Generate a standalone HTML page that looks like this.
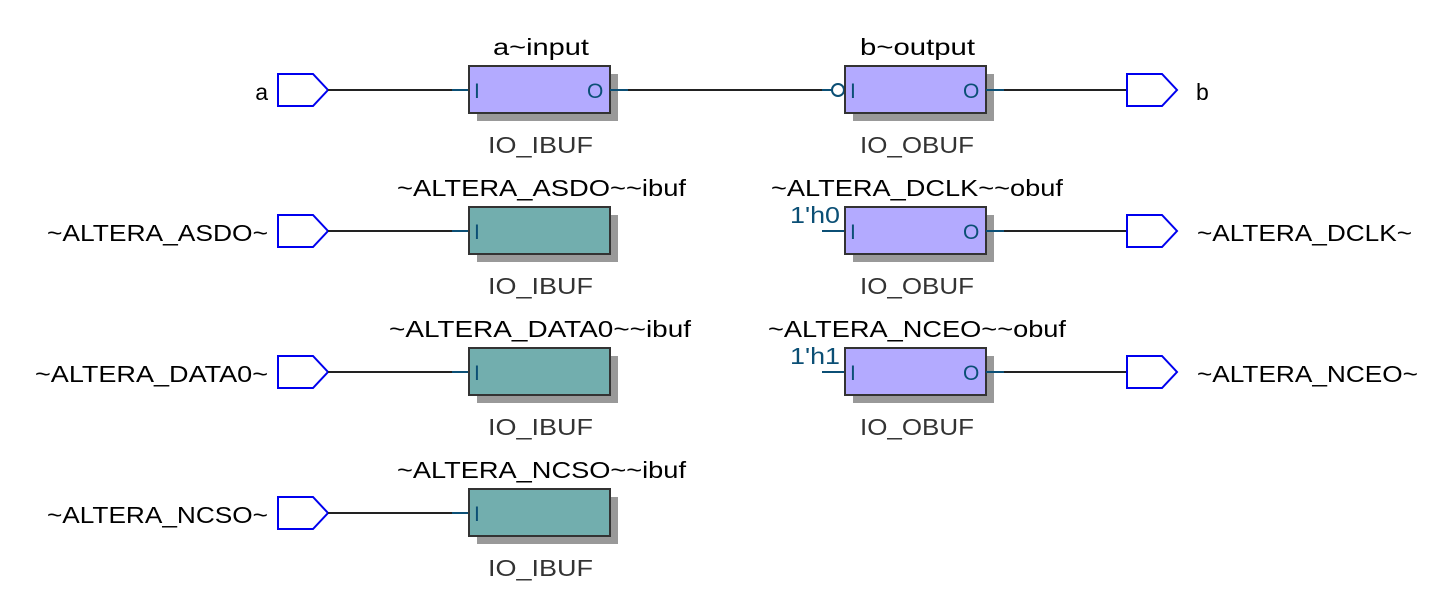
<!DOCTYPE html>
<html><head><style>body{margin:0;background:#fff}svg{display:block}</style></head><body>
<svg width="1449" height="600" viewBox="0 0 1449 600" xmlns="http://www.w3.org/2000/svg" font-family="Liberation Sans, DejaVu Sans, sans-serif">
<defs>
<g id="port"><path d="M278,-16 H313 L328,0 L313,16 H278 Z" fill="#fff" stroke="#0000ee" stroke-width="2"/></g>
</defs>
<g font-size="23" lengthAdjust="spacingAndGlyphs">
<!-- row 0 -->
<g transform="translate(0,90)">
<use href="#port"/>
<line x1="328" y1="0" x2="452" y2="0" stroke="#222" stroke-width="2"/>
<line x1="452" y1="0" x2="469" y2="0" stroke="#0b4f75" stroke-width="2"/>
<rect x="477" y="-16" width="141" height="47" fill="#999"/>
<rect x="469" y="-24" width="141" height="47" fill="#b3aaff" stroke="#333" stroke-width="2"/>
<text x="474" y="8" fill="#0b4f75" font-size="21">I</text>
<text x="587" y="8" fill="#0b4f75" font-size="21">O</text>
<line x1="610" y1="0" x2="628" y2="0" stroke="#0b4f75" stroke-width="2"/>
<line x1="628" y1="0" x2="822" y2="0" stroke="#222" stroke-width="2"/>
<line x1="822" y1="0" x2="832" y2="0" stroke="#0b4f75" stroke-width="2"/>
<circle cx="838" cy="0" r="6" fill="#fff" stroke="#0b4f75" stroke-width="2"/>
<rect x="853" y="-16" width="141" height="47" fill="#999"/>
<rect x="845" y="-24" width="141" height="47" fill="#b3aaff" stroke="#333" stroke-width="2"/>
<text x="850" y="8" fill="#0b4f75" font-size="21">I</text>
<text x="963" y="8" fill="#0b4f75" font-size="21">O</text>
<line x1="986" y1="0" x2="1004" y2="0" stroke="#0b4f75" stroke-width="2"/>
<line x1="1004" y1="0" x2="1127" y2="0" stroke="#222" stroke-width="2"/>
<path d="M1127,-16 H1162 L1177,0 L1162,16 H1127 Z" fill="#fff" stroke="#0000ee" stroke-width="2"/>
<text x="268" y="10" text-anchor="end">a</text>
<text x="1196" y="10">b</text>
<text x="493" y="-35" textLength="96" lengthAdjust="spacingAndGlyphs">a~input</text>
<text x="488" y="63" fill="#333" textLength="105" lengthAdjust="spacingAndGlyphs">IO_IBUF</text>
<text x="860" y="-35" textLength="115" lengthAdjust="spacingAndGlyphs">b~output</text>
<text x="860" y="63" fill="#333" textLength="114" lengthAdjust="spacingAndGlyphs">IO_OBUF</text>
</g>
<!-- input rows -->
<g transform="translate(0,231)">
<use href="#port"/>
<line x1="328" y1="0" x2="452" y2="0" stroke="#222" stroke-width="2"/>
<line x1="452" y1="0" x2="469" y2="0" stroke="#0b4f75" stroke-width="2"/>
<rect x="477" y="-16" width="141" height="47" fill="#999"/>
<rect x="469" y="-24" width="141" height="47" fill="#72aeae" stroke="#333" stroke-width="2"/>
<text x="474" y="8" fill="#0b4f75" font-size="21">I</text>
<text x="47" y="10" textLength="221" lengthAdjust="spacingAndGlyphs">~ALTERA_ASDO~</text>
<text x="397" y="-35" textLength="289" lengthAdjust="spacingAndGlyphs">~ALTERA_ASDO~~ibuf</text>
<text x="488" y="63" fill="#333" textLength="105" lengthAdjust="spacingAndGlyphs">IO_IBUF</text>
</g>
<g transform="translate(0,372)">
<use href="#port"/>
<line x1="328" y1="0" x2="452" y2="0" stroke="#222" stroke-width="2"/>
<line x1="452" y1="0" x2="469" y2="0" stroke="#0b4f75" stroke-width="2"/>
<rect x="477" y="-16" width="141" height="47" fill="#999"/>
<rect x="469" y="-24" width="141" height="47" fill="#72aeae" stroke="#333" stroke-width="2"/>
<text x="474" y="8" fill="#0b4f75" font-size="21">I</text>
<text x="35" y="10" textLength="233" lengthAdjust="spacingAndGlyphs">~ALTERA_DATA0~</text>
<text x="389" y="-35" textLength="302" lengthAdjust="spacingAndGlyphs">~ALTERA_DATA0~~ibuf</text>
<text x="488" y="63" fill="#333" textLength="105" lengthAdjust="spacingAndGlyphs">IO_IBUF</text>
</g>
<g transform="translate(0,513)">
<use href="#port"/>
<line x1="328" y1="0" x2="452" y2="0" stroke="#222" stroke-width="2"/>
<line x1="452" y1="0" x2="469" y2="0" stroke="#0b4f75" stroke-width="2"/>
<rect x="477" y="-16" width="141" height="47" fill="#999"/>
<rect x="469" y="-24" width="141" height="47" fill="#72aeae" stroke="#333" stroke-width="2"/>
<text x="474" y="8" fill="#0b4f75" font-size="21">I</text>
<text x="47" y="10" textLength="221" lengthAdjust="spacingAndGlyphs">~ALTERA_NCSO~</text>
<text x="397" y="-35" textLength="289" lengthAdjust="spacingAndGlyphs">~ALTERA_NCSO~~ibuf</text>
<text x="488" y="63" fill="#333" textLength="105" lengthAdjust="spacingAndGlyphs">IO_IBUF</text>
</g>
<!-- output rows -->
<g transform="translate(0,231)">
<line x1="822" y1="0" x2="845" y2="0" stroke="#0b4f75" stroke-width="2"/>
<text x="790" y="-8" fill="#0b4f75" textLength="50" lengthAdjust="spacingAndGlyphs">1'h0</text>
<rect x="853" y="-16" width="141" height="47" fill="#999"/>
<rect x="845" y="-24" width="141" height="47" fill="#b3aaff" stroke="#333" stroke-width="2"/>
<text x="850" y="8" fill="#0b4f75" font-size="21">I</text>
<text x="963" y="8" fill="#0b4f75" font-size="21">O</text>
<line x1="986" y1="0" x2="1004" y2="0" stroke="#0b4f75" stroke-width="2"/>
<line x1="1004" y1="0" x2="1127" y2="0" stroke="#222" stroke-width="2"/>
<path d="M1127,-16 H1162 L1177,0 L1162,16 H1127 Z" fill="#fff" stroke="#0000ee" stroke-width="2"/>
<text x="1197" y="10" textLength="215" lengthAdjust="spacingAndGlyphs">~ALTERA_DCLK~</text>
<text x="771" y="-35" textLength="292" lengthAdjust="spacingAndGlyphs">~ALTERA_DCLK~~obuf</text>
<text x="860" y="63" fill="#333" textLength="114" lengthAdjust="spacingAndGlyphs">IO_OBUF</text>
</g>
<g transform="translate(0,372)">
<line x1="822" y1="0" x2="845" y2="0" stroke="#0b4f75" stroke-width="2"/>
<text x="790" y="-8" fill="#0b4f75" textLength="50" lengthAdjust="spacingAndGlyphs">1'h1</text>
<rect x="853" y="-16" width="141" height="47" fill="#999"/>
<rect x="845" y="-24" width="141" height="47" fill="#b3aaff" stroke="#333" stroke-width="2"/>
<text x="850" y="8" fill="#0b4f75" font-size="21">I</text>
<text x="963" y="8" fill="#0b4f75" font-size="21">O</text>
<line x1="986" y1="0" x2="1004" y2="0" stroke="#0b4f75" stroke-width="2"/>
<line x1="1004" y1="0" x2="1127" y2="0" stroke="#222" stroke-width="2"/>
<path d="M1127,-16 H1162 L1177,0 L1162,16 H1127 Z" fill="#fff" stroke="#0000ee" stroke-width="2"/>
<text x="1197" y="10" textLength="221" lengthAdjust="spacingAndGlyphs">~ALTERA_NCEO~</text>
<text x="768" y="-35" textLength="298" lengthAdjust="spacingAndGlyphs">~ALTERA_NCEO~~obuf</text>
<text x="860" y="63" fill="#333" textLength="114" lengthAdjust="spacingAndGlyphs">IO_OBUF</text>
</g>
</g>
</svg>
</body></html>
